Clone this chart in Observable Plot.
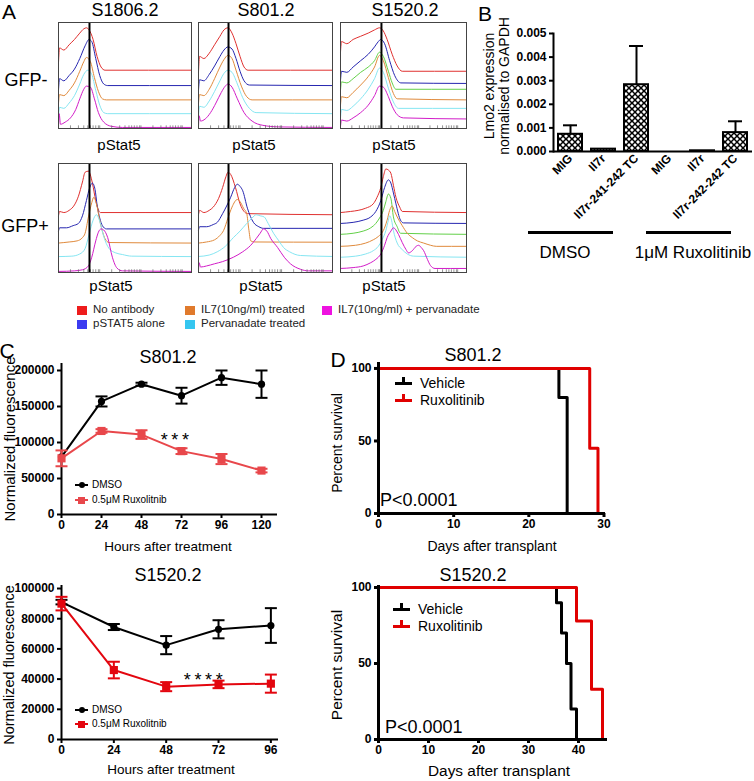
<!DOCTYPE html>
<html><head><meta charset="utf-8">
<script src="https://cdn.jsdelivr.net/npm/d3@7"></script>
<script src="https://cdn.jsdelivr.net/npm/@observablehq/plot@0.6"></script>
<style>
body{margin:0;background:#fff;}
#fig{position:relative;width:754px;height:781px;overflow:hidden;font-family:"Liberation Sans",Arial,Helvetica,sans-serif;color:#000;background:#fff;}
.abs{position:absolute;white-space:nowrap;line-height:1;}
</style></head><body><div id="fig"></div>
<script>
// ---------------- DATA ----------------
// Panel A: flow histograms (x: channel position 0-100 across plot, y: offset height 0-100)
const histS1806GFPneg = [
 ["red",[[0,62],[0.8,76],[4,74],[8,79],[12,84],[16,90],[19,94],[21,95],[23,93],[26,84],[29,68],[32,58],[35,55],[100,55]]],
 ["blue",[[0,36],[0.8,47],[4,45],[8,50],[12,56],[16,66],[20,78],[23,84],[25,82],[28,66],[31,50],[34,42],[37,40.5],[100,40.5]]],
 ["orange",[[0,24],[0.8,32],[4,31],[8,36],[12,43],[16,54],[19,63],[21,67],[24,63],[27,48],[30,35],[33,28],[36,27],[100,27]]],
 ["cyan",[[0,12],[0.8,20],[4,19],[8,24],[12,31],[16,42],[19,51],[22,55],[25,51],[28,36],[31,22],[34,15],[37,14],[100,14]]],
 ["magenta",[[0,1],[0.5,14],[1.5,4],[5,6],[9,10],[13,18],[16,28],[19,37],[21,40],[24,39],[27,28],[30,15],[34,6],[40,2],[48,1],[100,1]]]
];
const histS801GFPneg = [
 ["red",[[0,53],[0.8,68],[4,66],[8,71],[12,79],[16,87],[19,93],[22,95],[25,90],[28,80],[31,68],[34,58],[37,55],[100,55]]],
 ["blue",[[0,36],[0.8,46],[4,45],[8,51],[12,59],[16,68],[19,74],[22,77],[25,75],[28,66],[31,54],[34,45],[38,41],[100,40.5]]],
 ["orange",[[0,24],[0.8,32],[4,31],[8,37],[12,47],[16,58],[19,65],[22,69],[25,66],[28,55],[32,40],[36,30],[40,27],[100,27]]],
 ["cyan",[[0,12],[0.8,21],[4,20],[8,26],[12,35],[16,45],[19,52],[22,55],[25,53],[29,42],[33,29],[38,19],[43,15],[100,14]]],
 ["magenta",[[0,2],[0.5,12],[1.5,7],[5,9],[9,15],[13,24],[17,34],[20,40],[22,42],[25,39],[29,28],[34,15],[40,7],[48,3],[60,1.5],[100,1]]]
];
const histS1520GFPneg = [
 ["red",[[0,72],[0.8,82],[5,80],[10,84],[16,87],[22,90],[27,93],[31,95],[34,92],[37,84],[41,70],[45,59],[49,54],[100,54]]],
 ["blue",[[0,45],[0.8,54],[5,53],[10,58],[16,64],[22,70],[27,77],[30,82],[32,84],[35,80],[39,64],[43,50],[48,43],[100,42.5]]],
 ["green",[[0,36],[0.8,44],[5,43],[10,47],[16,53],[22,58],[27,64],[31,72],[34,68],[38,54],[41,43],[44,37],[100,37]]],
 ["orange",[[0,22],[0.8,30],[5,29],[10,34],[16,41],[22,49],[27,58],[31,69],[34,64],[38,48],[42,33],[45,28],[100,27]]],
 ["cyan",[[0,10],[0.8,18],[5,17],[10,21],[16,28],[22,37],[27,47],[31,57],[34,53],[38,38],[42,25],[46,19],[100,19]]],
 ["magenta",[[0,2],[0.8,8],[5,7],[10,10],[16,15],[22,22],[27,31],[31,40],[34,39],[38,30],[41,21],[45,13],[50,10],[100,9]]]
];
const histS1806GFPpos = [
 ["red",[[0,52],[0.8,56],[4,55],[8,57],[12,62],[15,70],[18,83],[20,92],[22.5,93],[25.5,82],[28,66],[31.5,55],[100,55]]],
 ["blue",[[0,38],[0.8,41],[6,41],[11,43],[15,45],[18,52],[21,66],[23.5,78],[25.5,82],[27.5,76],[29,62],[31,50],[33,43],[36,40],[100,40]]],
 ["orange",[[0,27],[8,28],[14,29],[18,32],[20,36],[22.5,51],[25,64],[26.5,69],[28.5,63],[31.5,45],[35,31],[38,27.5],[100,27]]],
 ["cyan",[[0,14.6],[10,15],[16,17],[20,22],[23,35],[26,48],[28.5,53],[31,47],[34,33],[38,22],[43,18],[48,16.5],[55,15],[100,14.6]]],
 ["magenta",[[0,1],[12,1.5],[18,2.5],[22.5,6],[25,14],[28,29],[30,37],[32,40],[34,39],[37,32],[40.5,14],[44,4],[48,1.5],[100,1]]]
];
const histS801GFPpos = [
 ["red",[[0,53],[0.8,57],[4,55],[8,57],[11,60],[15,68],[18,78],[20.5,88],[22,92],[24,90],[27.6,78],[31,63],[34,56],[36.5,54],[100,53]]],
 ["blue",[[0,39],[0.8,42],[6,42],[11,44],[14,46],[18,54],[21,61],[24,69],[27,78],[29,81],[31,79],[33,75],[36.5,59],[41,46],[45,42],[48.5,40.5],[100,40.5]]],
 ["orange",[[0,27],[6,28],[12,30],[16,34],[18.7,38.5],[22,50],[25,60],[29,67],[31,65],[33.6,59],[36,54],[37.5,40],[39,29],[42,28],[100,27.8]]],
 ["cyan",[[0,14.7],[8,16],[14,19],[20,24],[26,32],[31,38],[36,45],[40,50],[43,53],[46,52],[49,51],[52,45],[56,36],[60,29],[63.4,23],[68,19],[76,15.6],[100,14.7]]],
 ["magenta",[[0,2],[0.5,9],[1.5,5],[6,6],[12,8],[18,10],[26,14],[33,19],[39,25],[43,31],[46,36],[48.5,40],[51,38],[54,31],[59,23],[64,14],[68.6,8],[76,3],[82,1.5],[100,1.5]]]
];
const histS1520GFPpos = [
 ["red",[[0,55],[8,56],[14,57],[20,59],[26,63],[29,69],[32,78],[34,88],[36,95],[38,94],[40,91],[42,80],[44,69],[47,60],[49,56],[100,55]]],
 ["blue",[[0,45],[10,46],[18,48],[24,51],[28,56],[32,66],[35,78],[38,85],[40,82],[42,73],[44,63],[47.6,48],[50,45.5],[100,45]]],
 ["green",[[0,35],[10,36],[18,38],[24,41],[28,45],[31,50],[34,57],[36,65],[38,72],[40,68],[42,51],[45,42],[47.6,36],[100,35]]],
 ["orange",[[0,24],[12,25],[20,27],[26,30],[30,33],[34,38.5],[37,48],[39,57],[41,61],[43,56],[45,51],[49,43],[53,36],[57,32],[61,29],[66,27],[71.4,25],[76,24],[100,24]]],
 ["cyan",[[0,14],[12,15],[20,17],[26,20],[30,24],[33,30],[36,38.5],[38,48],[39,52],[40.5,48],[42,38.5],[45,27],[49,21],[53,17],[58,15],[100,14]]],
 ["magenta",[[0,3.7],[10,4.5],[18,6],[24,9],[28,12],[32,17],[35,25],[37,32],[40,38],[42,41],[44,39],[46,35],[49,27.5],[52,21],[54,18],[57,20],[60,24],[62,25],[64,23],[66,20],[69,12],[71.4,6.4],[75,3.7],[100,3.7]]]
];
const histMarkers = [23.3, 22.4, 32.5, 23.3, 22.4, 32.5];
const histTickPos = [0,9,15,19,22,24,26,28,30,31,40,46,50,53,55,57,59,61,62,71,77,81,84,86,88,90,92,93];
const histSamples = ["S1806.2","S801.2","S1520.2"];
const histRows = ["GFP-","GFP+"];
const legendLabels = ["No antibody","pSTAT5 alone","IL7(10ng/ml) treated","Pervanadate treated","IL7(10ng/ml) + pervanadate"];

// Panel B: Lmo2 expression
const barKeys = ["MIG_D","Il7r_D","TC_D","MIG_R","Il7r_R","TC_R"];
const barLabels = ["MIG","Il7r","Il7r-241-242 TC","MIG","Il7r","Il7r-242-242 TC"];
const barValues = [0.00073,0.00010,0.00283,0,0.00003,0.00080];
const barErrors = [0.00038,0,0.00164,0,0,0.00048];
const barTicks = [0,0.001,0.002,0.003,0.004,0.005];
const barGroups = ["DMSO","1\u03bcM Ruxolitinib"];

// Panel C: normalized fluorescence over time
const hoursS801 = [0,24,48,72,96,120];
const dmsoS801 = [80000,157000,181000,165000,190000,181000];
const dmsoS801Err = [0,7000,2000,11000,10000,19000];
const ruxS801 = [78000,116000,111000,88000,77000,61000];
const ruxS801Err = [11000,2500,6000,4000,7000,2500];
const starsS801 = [{x:68, y:110000, t:"*\u2009*\u2009*"}];
const hoursS1520 = [0,24,48,72,96];
const dmsoS1520 = [91000,74500,62500,73000,75500];
const dmsoS1520Err = [1500,2000,6000,6000,11500];
const ruxS1520 = [90000,46000,35000,36500,37000];
const ruxS1520Err = [4500,5500,3000,2500,6000];
const starsS1520 = [{x:65, y:42400, t:"*\u2009*\u2009*\u2009*"}];
const cLegend = ["DMSO","0.5\u03bcM Ruxolitnib"];

// Panel D: survival
const vehDaysS801 = [0,24,25.1];
const vehSurvS801 = [100,80,0];
const ruxDaysS801 = [0,28.1,29.2];
const ruxSurvS801 = [100,45,0];
const vehDaysS1520 = [0,35.6,36.6,37.6,38.5,39.6];
const vehSurvS1520 = [100,90,70,50,20,0];
const ruxDaysS1520 = [0,39.6,42.6,44.8];
const ruxSurvS1520 = [100,78,33,0];
const dLegend = ["Vehicle","Ruxolitinib"];
const pValue = "P<0.0001";

// ---------------- STYLES / HELPERS ----------------
const FONT = '"Liberation Sans", Arial, Helvetica, sans-serif';
const histColors = {red:"#e0302f", blue:"#2626b0", green:"#62d048", orange:"#e08a3c", cyan:"#86e6f2", magenta:"#d21cc8"};
const legendColors = ["#ee1c1c","#3b3bf0","#e07a2c","#35c6f0","#ee12e0"];
const fig = document.getElementById("fig");
const baseStyle = {fontFamily: FONT, fontSize: "12px", fontWeight: "bold", color: "#000", background: "transparent", overflow: "visible"};

function place(node, left, top) {
  node.style.position = "absolute";
  node.style.left = left + "px";
  node.style.top = top + "px";
  fig.appendChild(node);
  return node;
}
function label(text, x, y, size, o = {}) {
  const d = document.createElement("div");
  d.className = "abs";
  d.textContent = text;
  d.style.left = x + "px"; d.style.top = y + "px"; d.style.fontSize = size + "px";
  if (o.bold) d.style.fontWeight = "bold";
  if (o.color) d.style.color = o.color;
  const a = o.align || "center";
  let tf = a === "center" ? "translate(-50%,-50%)" : a === "left" ? "translate(0,-50%)" : "translate(-100%,-50%)";
  if (o.rotate) tf += ` rotate(${o.rotate}deg)`;
  d.style.transform = tf;
  fig.appendChild(d);
  return d;
}
function box(x, y, w, h, color) {
  const d = document.createElement("div");
  Object.assign(d.style, {position:"absolute", left:x+"px", top:y+"px", width:w+"px", height:h+"px", background:color});
  fig.appendChild(d);
  return d;
}

// ---------------- PANEL A ----------------
const histPanels = [histS1806GFPneg, histS801GFPneg, histS1520GFPneg, histS1806GFPpos, histS801GFPpos, histS1520GFPpos];
const colBoxes = [[58,191],[198,332],[340,466]];
const rowBoxes = [[22,128],[163,272]];
histPanels.forEach((curves, i) => {
  const [x0, x1] = colBoxes[i % 3];
  const [y0, y1] = rowBoxes[Math.floor(i / 3)];
  const m = 2;
  const rows = curves.flatMap(([c, pts]) => pts.map(([x, y]) => ({c, x, y})));
  const p = Plot.plot({
    width: x1 - x0 + 2*m, height: y1 - y0 + 2*m, margin: m,
    style: baseStyle,
    x: {domain: [0, 100], axis: null},
    y: {domain: [0, 100], axis: null},
    color: {type: "identity"},
    marks: [
      Plot.line(rows, {x: "x", y: "y", z: "c", stroke: d => histColors[d.c], strokeWidth: 1, curve: "monotone-x"}),
      Plot.ruleX(histTickPos, {y1: 0, y2: 2.5, stroke: "#666", strokeWidth: 0.7}),
      Plot.ruleX([histMarkers[i]], {stroke: "#000", strokeWidth: 2}),
      Plot.frame({stroke: "#444", strokeWidth: 1})
    ]
  });
  place(p, x0 - m, y0 - m);
});
label("A", 9, 11, 21);
[125, 266, 405].forEach((x, i) => label(histSamples[i], x, 10, 18));
label(histRows[0], 26, 80, 18);
label(histRows[1], 25, 226, 18);
[[119,144],[254,144],[394,144],[111,285],[261,285],[384,285]].forEach(([x, y]) => label("pStat5", x, y, 15));
[[77,310],[77,324],[185,310],[185,324],[322,310]].forEach(([x, y], i) => {
  box(x, y - 4.5, 10, 9, legendColors[i]);
  label(legendLabels[i], x + 16, y, 11.5, {align: "left", color: "#222"});
});

// ---------------- PANEL B ----------------
const barRows = barKeys.map((k, i) => ({k, v: barValues[i], e: barErrors[i]}));
const barLabelMap = new Map(barKeys.map((k, i) => [k, barLabels[i]]));
const bPlot = Plot.plot({
  width: 254, height: 205, marginLeft: 53, marginRight: 2, marginTop: 8, marginBottom: 79,
  style: baseStyle,
  x: {domain: barKeys, paddingInner: 0.27, paddingOuter: 0.15, axis: null},
  y: {domain: [0, 0.005], axis: null},
  marks: [
    Plot.barY(barRows, {x: "k", y: "v", fill: "url(#xhatch)", stroke: "#000", strokeWidth: 2}),
    Plot.ruleX(barRows.filter(d => d.e > 0), {x: "k", y1: "v", y2: d => d.v + d.e, stroke: "#000", strokeWidth: 2}),
    Plot.tickY(barRows.filter(d => d.e > 0), {x: "k", y: d => d.v + d.e, stroke: "#000", strokeWidth: 2, insetLeft: 5, insetRight: 5}),
    Plot.ruleY([0], {stroke: "#000", strokeWidth: 2}),
    Plot.axisY({ticks: barTicks, tickFormat: d3.format(".3f"), tickSize: 4, strokeWidth: 2, tickPadding: 3, label: null}),
    Plot.axisX({tickRotate: -45, tickSize: 0, tickPadding: 5, tickFormat: k => barLabelMap.get(k), label: null}),
    Plot.frame({anchor: "left", stroke: "#000", strokeWidth: 2})
  ]
});
{
  const svg = d3.select(bPlot);
  const defs = svg.insert("defs", ":first-child");
  const pat = defs.append("pattern").attr("id", "xhatch").attr("patternUnits", "userSpaceOnUse").attr("width", 6).attr("height", 6);
  pat.append("rect").attr("width", 6).attr("height", 6).attr("fill", "#fff");
  pat.append("path").attr("d", "M-1,-1L7,7M-1,7L7,-1").attr("stroke", "#000").attr("stroke-width", 1.5);
}
place(bPlot, 500, 25);
label("B", 485, 13, 21);
label("Lmo2 expression", 489, 86, 14, {rotate: -90});
label("normalised to GAPDH", 504, 86, 14, {rotate: -90});
box(528, 230.5, 85, 3, "#000");
box(646, 230.5, 85, 3, "#000");
label(barGroups[0], 565, 252, 17);
label(barGroups[1], 693, 252, 17);

// ---------------- PANEL C ----------------
const capSym = {draw(ctx, size) { const r = Math.sqrt(size / Math.PI); ctx.moveTo(-r, 0); ctx.lineTo(r, 0); }};
function timeChart(cfg) {
  const mk = (vals, errs) => cfg.hours.map((h, i) => ({h, v: vals[i], e: errs[i]}));
  const series = [[mk(cfg.dmso, cfg.dmsoErr), "#000", "circle", 3.6], [mk(cfg.rux, cfg.ruxErr), cfg.ruxColor, "square", 4.6]];
  const marks = [
    Plot.axisY({ticks: cfg.yTicks, tickFormat: "d", tickSize: 4, strokeWidth: 2, tickPadding: 3, label: null}),
    Plot.axisX({ticks: cfg.hours, tickFormat: "d", tickSize: 4, strokeWidth: 2, tickPadding: 2, label: null}),
    Plot.ruleY([0], {stroke: "#000", strokeWidth: 2}),
    Plot.ruleX([0], {stroke: "#000", strokeWidth: 2})
  ];
  for (const [rows, col, sym, r] of series) {
    const eb = rows.filter(d => d.e > 0);
    marks.push(
      Plot.line(rows, {x: "h", y: "v", stroke: col, strokeWidth: 2}),
      Plot.ruleX(eb, {x: "h", y1: d => d.v - d.e, y2: d => d.v + d.e, stroke: col, strokeWidth: 2}),
      Plot.dot(eb, {x: "h", y: d => d.v + d.e, symbol: capSym, r: 6, stroke: col, fill: "none", strokeWidth: 2}),
      Plot.dot(eb, {x: "h", y: d => d.v - d.e, symbol: capSym, r: 6, stroke: col, fill: "none", strokeWidth: 2}),
      Plot.dot(rows, {x: "h", y: "v", symbol: sym, r, fill: col, stroke: "none"})
    );
  }
  marks.push(Plot.text(cfg.stars, {x: "x", y: "y", text: "t", fontSize: 18, fontWeight: "normal", dy: 5}));
  const p = Plot.plot({
    width: 290, height: 200, marginLeft: 61, marginRight: cfg.mr, marginTop: cfg.mt, marginBottom: cfg.mb,
    style: baseStyle,
    x: {domain: [0, cfg.xMax], axis: null},
    y: {domain: [0, cfg.yMax], axis: null},
    marks
  });
  place(p, 0, cfg.top);
}
timeChart({hours: hoursS801, dmso: dmsoS801, dmsoErr: dmsoS801Err, rux: ruxS801, ruxErr: ruxS801Err,
  ruxColor: "#e8474b", stars: starsS801, xMax: 129.6, yMax: 209700, yTicks: [0,50000,100000,150000,200000],
  top: 340, mt: 23, mb: 26, mr: 13});
timeChart({hours: hoursS1520, dmso: dmsoS1520, dmsoErr: dmsoS1520Err, rux: ruxS1520, ruxErr: ruxS1520Err,
  ruxColor: "#e3060f", stars: starsS1520, xMax: 99.5, yMax: 102000, yTicks: [0,20000,40000,60000,80000,100000],
  top: 560, mt: 25, mb: 21, mr: 12});
label("C", 7, 350, 21);
label("S801.2", 168, 357, 18);
label("S1520.2", 168, 575, 18);
label("Normalized fluorescence", 9, 439, 15, {rotate: -90});
label("Normalized fluorescence", 9, 665, 14.5, {rotate: -90});
label("Hours after treatment", 168, 547, 13.5);
label("Hours after treatment", 171, 770, 13.5);
[[485, "#000", true], [500, "#e8474b", false], [710, "#000", true], [724, "#e3060f", false]].forEach(([y, col, round], i) => {
  box(75, y - 1, 13, 2, col);
  const s = box(round ? 78.5 : 78, round ? y - 3 : y - 3.5, round ? 6 : 7, round ? 6 : 7, col);
  if (round) s.style.borderRadius = "50%";
  label(cLegend[i % 2], 92, y, 10, {align: "left"});
});

// ---------------- PANEL D ----------------
function survChart(cfg) {
  const veh = cfg.vehDays.map((d, i) => ({d, s: cfg.vehSurv[i]}));
  const rux = cfg.ruxDays.map((d, i) => ({d, s: cfg.ruxSurv[i]}));
  const p = Plot.plot({
    width: 290, height: 200, marginLeft: 48, marginRight: cfg.mr, marginTop: cfg.mt, marginBottom: cfg.mb,
    style: baseStyle,
    x: {domain: [0, cfg.xMax], axis: null},
    y: {domain: [0, cfg.yMax], axis: null},
    marks: [
      Plot.axisY({ticks: [0, 50, 100], tickSize: 4, strokeWidth: 3, tickPadding: 3, label: null}),
      Plot.axisX({ticks: cfg.xTicks, tickSize: 4, strokeWidth: 3, tickPadding: 2, label: null}),
      Plot.line(veh, {x: "d", y: "s", curve: "step-after", stroke: "#000", strokeWidth: 3}),
      Plot.line(rux, {x: "d", y: "s", curve: "step-after", stroke: "#e00000", strokeWidth: 3}),
      Plot.ruleY([0], {stroke: "#000", strokeWidth: 3}),
      Plot.ruleX([0], {stroke: "#000", strokeWidth: 3})
    ]
  });
  place(p, 330, cfg.top);
}
survChart({vehDays: vehDaysS801, vehSurv: vehSurvS801, ruxDays: ruxDaysS801, ruxSurv: ruxSurvS801,
  xMax: 30.2, yMax: 104.1, xTicks: [0,10,20,30], top: 340, mt: 22, mb: 27, mr: 15});
survChart({vehDays: vehDaysS1520, vehSurv: vehSurvS1520, ruxDays: ruxDaysS1520, ruxSurv: ruxSurvS1520,
  xMax: 45.8, yMax: 101.3, xTicks: [0,10,20,30,40], top: 560, mt: 25, mb: 21, mr: 13});
label("D", 338, 359, 21);
label("S801.2", 473, 355, 18);
label("S1520.2", 473, 575, 18);
label("Percent survival", 337, 443, 14, {rotate: -90});
label("Percent survival", 337, 665, 15.5, {rotate: -90});
label("Days after transplant", 492, 546, 14);
label("Days after transplant", 499, 771, 15.4);
[[395, 383, "#000"], [395, 400, "#e00000"], [393, 609, "#000"], [393, 626, "#e00000"]].forEach(([x, y, col], i) => {
  box(x, y - 1.5, 17, 3, col);
  box(x + 7, y - 6, 3, 5, col);
  label(dLegend[i % 2], x + 25, y, 14, {align: "left"});
});
label(pValue, 380, 500, 18, {align: "left"});
label(pValue, 385, 727, 18, {align: "left"});
</script></body></html>
